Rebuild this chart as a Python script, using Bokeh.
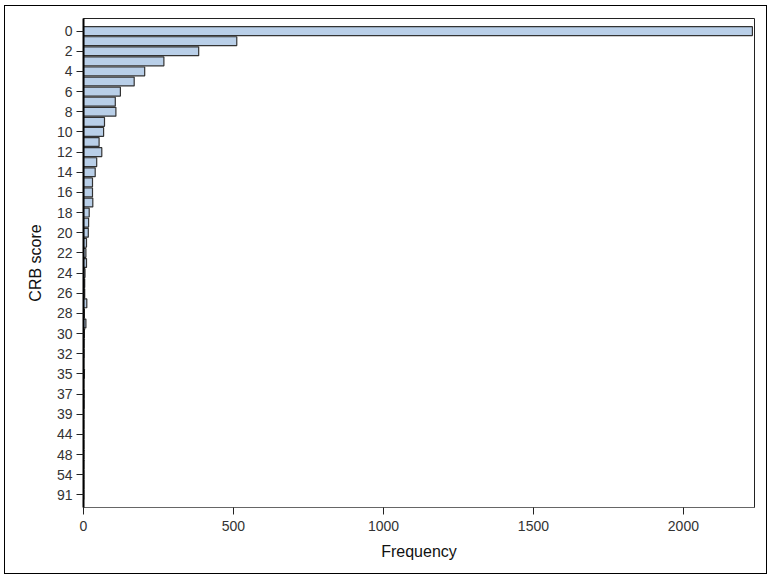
from bokeh.plotting import figure
from bokeh.layouts import column
from bokeh.models import Range1d, FixedTicker
from bokeh.embed import file_html
from bokeh.resources import INLINE

# CRB score categories (top to bottom) and their frequencies
categories = [str(i) for i in range(0, 33)] + ["33", "35", "36", "37", "38", "39", "40",
                                                "44", "46", "48", "50", "54", "60", "91"]
frequency = [2230, 511, 384, 268, 204, 169, 123, 106, 108, 70,
             67, 52, 61, 44, 39, 30, 30, 31, 19, 17,
             16, 10, 8, 10, 5, 4, 4, 11, 3, 8,
             3, 2, 2, 1, 3, 1, 2, 2, 1, 1,
             1, 1, 1, 1, 1, 1, 1]
x_ticks = [0, 500, 1000, 1500, 2000]

pos = list(range(len(categories)))
n = len(categories)

FONT = "Liberation Sans"

fig = figure(width=761, height=567, output_backend="svg", toolbar_location=None,
             x_range=Range1d(0, 2237), y_range=Range1d(n - 1 + 1.25, -1.25),
             min_border_left=78, min_border_right=12, min_border_top=12, min_border_bottom=66)

fig.hbar(y=pos, right=frequency, left=0, height=0.88,
         fill_color="#b9cfe8", line_color="#333333", line_width=1.2)

fig.xgrid.visible = False
fig.ygrid.visible = False
fig.outline_line_color = "#222222"
fig.outline_line_width = 1
fig.background_fill_color = "white"
fig.border_fill_color = "white"

fig.xaxis.ticker = FixedTicker(ticks=x_ticks)
fig.yaxis.ticker = FixedTicker(ticks=pos[::2])
fig.yaxis.major_label_overrides = {i: categories[i] for i in pos[::2]}

for ax in (fig.xaxis[0], fig.yaxis[0]):
    ax.minor_tick_line_color = None
    ax.major_tick_in = 0
    ax.major_tick_out = 7
    ax.major_tick_line_color = "#222222"
    ax.major_label_text_font = FONT
    ax.major_label_text_font_size = "14px"
    ax.major_label_text_color = "#333333"
    ax.axis_label_text_font = FONT
    ax.axis_label_text_font_size = "16px"
    ax.axis_label_text_font_style = "normal"
    ax.axis_label_text_color = "#111111"

fig.xaxis.axis_label = "Frequency"
fig.yaxis.axis_label = "CRB score"
fig.yaxis.axis_line_color = "#000000"
fig.yaxis.axis_line_width = 2
fig.xaxis.axis_line_color = "#666666"
fig.yaxis.major_label_standoff = 4
fig.xaxis.major_label_standoff = 6
fig.yaxis.axis_label_standoff = 10
fig.xaxis.axis_label_standoff = 9

# outer frame around the whole chart, drawn as a CSS border on a wrapping layout
p = column(fig, styles={"border": "1px solid #000000", "margin-left": "4px",
                        "margin-top": "5px"})

open("out.html", "w").write(file_html(p, INLINE))
